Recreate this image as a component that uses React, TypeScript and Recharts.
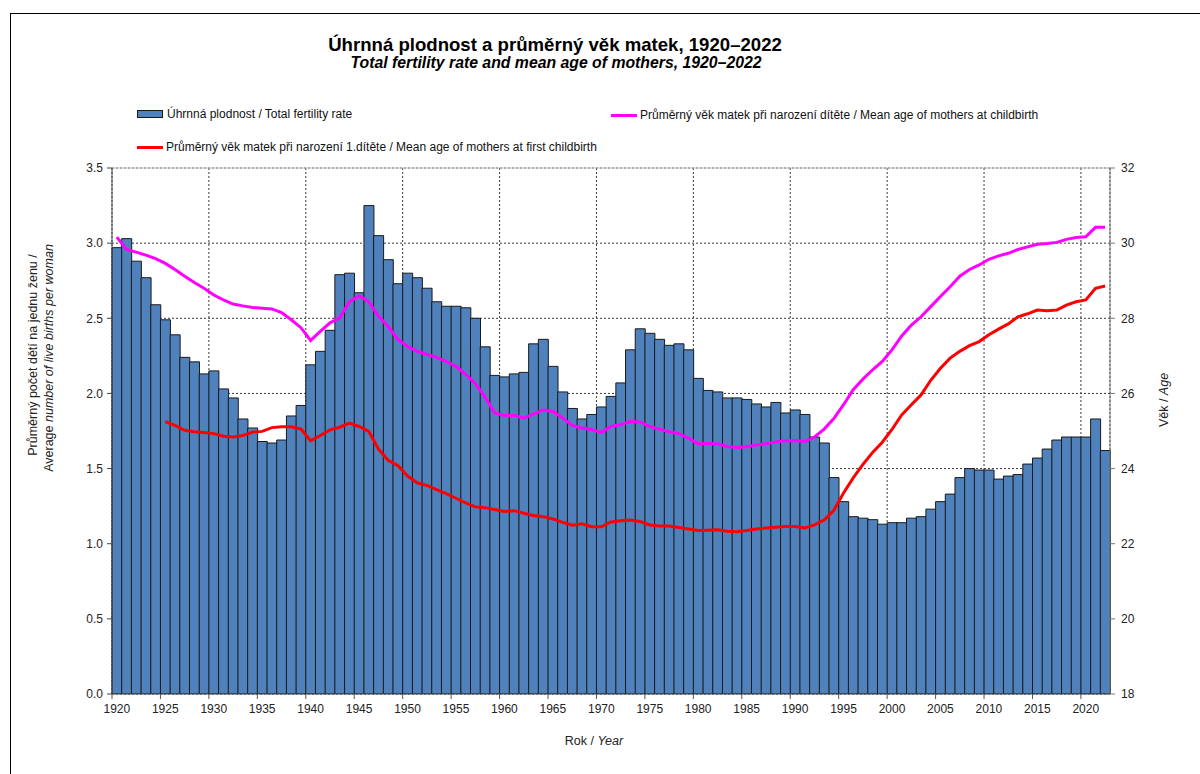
import React from 'react';
import { ComposedChart, Bar, Line, XAxis, YAxis, CartesianGrid, ReferenceLine, Legend } from 'recharts';

const years = [
  1920, 1921, 1922, 1923, 1924, 1925, 1926, 1927, 1928, 1929,
  1930, 1931, 1932, 1933, 1934, 1935, 1936, 1937, 1938, 1939,
  1940, 1941, 1942, 1943, 1944, 1945, 1946, 1947, 1948, 1949,
  1950, 1951, 1952, 1953, 1954, 1955, 1956, 1957, 1958, 1959,
  1960, 1961, 1962, 1963, 1964, 1965, 1966, 1967, 1968, 1969,
  1970, 1971, 1972, 1973, 1974, 1975, 1976, 1977, 1978, 1979,
  1980, 1981, 1982, 1983, 1984, 1985, 1986, 1987, 1988, 1989,
  1990, 1991, 1992, 1993, 1994, 1995, 1996, 1997, 1998, 1999,
  2000, 2001, 2002, 2003, 2004, 2005, 2006, 2007, 2008, 2009,
  2010, 2011, 2012, 2013, 2014, 2015, 2016, 2017, 2018, 2019,
  2020, 2021, 2022,
];

const totalFertility = [
  2.97, 3.03, 2.88, 2.77, 2.59, 2.49, 2.39, 2.24, 2.21, 2.13,
  2.15, 2.03, 1.97, 1.83, 1.77, 1.68, 1.67, 1.69, 1.85, 1.92,
  2.19, 2.28, 2.42, 2.79, 2.80, 2.67, 3.25, 3.05, 2.89, 2.73,
  2.80, 2.77, 2.70, 2.61, 2.58, 2.58, 2.57, 2.50, 2.31, 2.12,
  2.11, 2.13, 2.14, 2.33, 2.36, 2.18, 2.01, 1.90, 1.83, 1.86,
  1.91, 1.98, 2.07, 2.29, 2.43, 2.40, 2.36, 2.32, 2.33, 2.29,
  2.10, 2.02, 2.01, 1.97, 1.97, 1.96, 1.93, 1.91, 1.94, 1.87,
  1.89, 1.86, 1.71, 1.67, 1.44, 1.28, 1.18, 1.17, 1.16, 1.13,
  1.14, 1.14, 1.17, 1.18, 1.23, 1.28, 1.33, 1.44, 1.50, 1.49,
  1.49, 1.43, 1.45, 1.46, 1.53, 1.57, 1.63, 1.69, 1.71, 1.71,
  1.71, 1.83, 1.62,
];

const meanAgeAll = [
  30.16, 29.83, 29.76, 29.68, 29.59, 29.46, 29.30, 29.12, 28.95, 28.80,
  28.62, 28.49, 28.38, 28.33, 28.29, 28.27, 28.25, 28.15, 27.96, 27.75,
  27.41, 27.65, 27.88, 28.01, 28.44, 28.60, 28.44, 28.06, 27.78, 27.44,
  27.25, 27.12, 27.04, 26.96, 26.85, 26.72, 26.51, 26.26, 25.90, 25.48,
  25.41, 25.42, 25.35, 25.45, 25.56, 25.52, 25.35, 25.15, 25.08, 25.04,
  24.96, 25.12, 25.17, 25.25, 25.24, 25.12, 25.05, 24.98, 24.93, 24.81,
  24.66, 24.67, 24.66, 24.59, 24.56, 24.58, 24.63, 24.66, 24.71, 24.74,
  24.75, 24.72, 24.84, 25.05, 25.33, 25.70, 26.10, 26.38, 26.63, 26.85,
  27.16, 27.53, 27.82, 28.04, 28.31, 28.58, 28.84, 29.12, 29.30, 29.42,
  29.57, 29.66, 29.73, 29.83, 29.90, 29.97, 29.99, 30.02, 30.10, 30.15,
  30.17, 30.42, 30.42,
];

const meanAgeFirst: (number | null)[] = [
  null, null, null, null, null, 25.25, 25.15, 25.02, 24.98, 24.96,
  24.93, 24.86, 24.84, 24.88, 24.97, 24.99, 25.09, 25.11, 25.11, 25.05,
  24.74, 24.88, 25.03, 25.10, 25.21, 25.12, 24.99, 24.52, 24.22, 24.08,
  23.80, 23.62, 23.55, 23.44, 23.33, 23.21, 23.09, 22.98, 22.96, 22.91,
  22.86, 22.88, 22.81, 22.75, 22.72, 22.66, 22.57, 22.49, 22.53, 22.45,
  22.45, 22.58, 22.61, 22.63, 22.59, 22.50, 22.47, 22.47, 22.43, 22.39,
  22.35, 22.36, 22.37, 22.33, 22.32, 22.35, 22.39, 22.42, 22.44, 22.46,
  22.46, 22.42, 22.50, 22.63, 22.89, 23.35, 23.75, 24.11, 24.43, 24.70,
  25.04, 25.43, 25.70, 25.96, 26.35, 26.67, 26.94, 27.12, 27.27, 27.38,
  27.56, 27.71, 27.85, 28.04, 28.12, 28.22, 28.20, 28.22, 28.35, 28.44,
  28.49, 28.80, 28.86,
];

const leftTicks = [0, 0.5, 1, 1.5, 2, 2.5, 3, 3.5];
const rightTicks = [18, 20, 22, 24, 26, 28, 30, 32];
const decadeYears = [1930, 1940, 1950, 1960, 1970, 1980, 1990, 2000, 2010, 2020];

const data = years.map((year, i) => ({
  year,
  tfr: totalFertility[i],
  age: meanAgeAll[i],
  ageFirst: meanAgeFirst[i],
}));

const FONT = '"Liberation Sans", Arial, Helvetica, sans-serif';
const BAR_FILL = '#4f81bd';
const BAR_STROKE = '#1a1a1a';
const MAGENTA = '#ff00ff';
const RED = '#ff0000';

const XTick = (props: any) => {
  const { x, y, payload } = props;
  const off = payload && typeof payload.offset === 'number' ? payload.offset : 0;
  return (
    <g>
      <line x1={x - off} x2={x - off} y1={y} y2={y + 5} stroke="#555" strokeWidth={1} />
      <text x={x} y={y + 19} textAnchor="middle" fontSize={12} fill="#222" fontFamily={FONT}>
        {payload.value}
      </text>
    </g>
  );
};

const LegendContent = () => (
  <div style={{ position: 'relative', width: 1200, height: 0, fontFamily: FONT, fontSize: 12, color: '#111' }}>
    <div style={{ position: 'absolute', left: 137, top: 106, display: 'flex', alignItems: 'center', whiteSpace: 'nowrap', lineHeight: '16px' }}>
      <span style={{ display: 'inline-block', width: 24, height: 6, background: BAR_FILL, border: `1px solid ${BAR_STROKE}`, marginRight: 4 }} />
      <span>Úhrnná plodnost / Total fertility rate</span>
    </div>
    <div style={{ position: 'absolute', left: 611, top: 107, display: 'flex', alignItems: 'center', whiteSpace: 'nowrap', lineHeight: '16px' }}>
      <span style={{ display: 'inline-block', width: 26, height: 3, background: MAGENTA, marginRight: 3 }} />
      <span>Průměrný věk matek při narození dítěte / Mean age of mothers at childbirth</span>
    </div>
    <div style={{ position: 'absolute', left: 137, top: 139, display: 'flex', alignItems: 'center', whiteSpace: 'nowrap', lineHeight: '16px' }}>
      <span style={{ display: 'inline-block', width: 26, height: 3, background: RED, marginRight: 3 }} />
      <span>Průměrný věk matek při narození 1.dítěte / Mean age of mothers at first childbirth</span>
    </div>
  </div>
);

export default function App() {
  return (
    <div style={{ position: 'fixed', left: 0, top: 0, width: 1200, height: 774, overflow: 'hidden', background: '#fff', fontFamily: FONT }}>
      <div style={{ position: 'absolute', left: 10, top: 13, width: 1300, height: 900, borderTop: '1px solid #000', borderLeft: '1px solid #000' }} />
      <ComposedChart
        width={1200}
        height={774}
        data={data}
        margin={{ top: 168, right: 40, bottom: 50, left: 52 }}
        barCategoryGap={0}
        barGap={0}
        style={{ position: 'absolute', left: 0, top: 0 }}
      >
        <XAxis
          xAxisId="num"
          type="number"
          dataKey="year"
          domain={[1919.5, 2022.5]}
          ticks={decadeYears.map((d) => d - 0.5)}
          allowDataOverflow
          hide
        />
        <CartesianGrid xAxisId="num" yAxisId="left" stroke="#3a3a3a" strokeDasharray="2 2" />
        <XAxis
          xAxisId="cat"
          dataKey="year"
          type="category"
          interval={4}
          tickLine={false}
          tickSize={0}
          tickMargin={0}
          tick={<XTick />}
          axisLine={{ stroke: '#444' }}
          height={30}
        />
        <YAxis
          yAxisId="left"
          domain={[0, 3.5]}
          ticks={leftTicks}
          tickFormatter={(v: number) => v.toFixed(1)}
          width={60}
          tickSize={5}
          tickMargin={4}
          axisLine={{ stroke: '#444' }}
          tickLine={{ stroke: '#444' }}
          tick={{ fontSize: 12, fill: '#222', fontFamily: FONT }}
          allowDataOverflow
        />
        <YAxis
          yAxisId="right"
          orientation="right"
          domain={[18, 32]}
          ticks={rightTicks}
          width={50}
          tickSize={5}
          tickMargin={6}
          axisLine={{ stroke: '#777' }}
          tickLine={{ stroke: '#777' }}
          tick={{ fontSize: 12, fill: '#222', fontFamily: FONT }}
          allowDataOverflow
        />
        <ReferenceLine xAxisId="cat" yAxisId="left" y={3.5} stroke="#c4c4c4" strokeWidth={1} />
        <Bar
          xAxisId="cat"
          yAxisId="left"
          dataKey="tfr"
          fill={BAR_FILL}
          stroke={BAR_STROKE}
          strokeWidth={1}
          isAnimationActive={false}
        />
        <Line
          xAxisId="cat"
          yAxisId="right"
          type="linear"
          dataKey="age"
          stroke={MAGENTA}
          strokeWidth={3}
          dot={false}
          activeDot={false}
          isAnimationActive={false}
        />
        <Line
          xAxisId="cat"
          yAxisId="right"
          type="linear"
          dataKey="ageFirst"
          stroke={RED}
          strokeWidth={3}
          dot={false}
          activeDot={false}
          isAnimationActive={false}
        />
        <Legend content={<LegendContent />} wrapperStyle={{ position: 'absolute', left: 0, top: 0, width: 1200, height: 0 }} />
      </ComposedChart>

      <div style={{ position: 'absolute', left: 555, top: 34, transform: 'translateX(-50%)', whiteSpace: 'nowrap', fontWeight: 'bold', fontSize: 18.6, color: '#000', lineHeight: '21px' }}>
        Úhrnná plodnost a průměrný věk matek, 1920–2022
      </div>
      <div style={{ position: 'absolute', left: 556, top: 54, transform: 'translateX(-50%)', whiteSpace: 'nowrap', fontWeight: 'bold', fontStyle: 'italic', fontSize: 15.8, color: '#000', lineHeight: '18px' }}>
        Total fertility rate and mean age of mothers, 1920–2022
      </div>

      <div style={{ position: 'absolute', left: 33, top: 355, transform: 'translate(-50%, -50%) rotate(-90deg)', whiteSpace: 'nowrap', fontSize: 12.5, color: '#222', lineHeight: '15px' }}>
        Průměrný počet dětí na jednu ženu /
      </div>
      <div style={{ position: 'absolute', left: 49, top: 358, transform: 'translate(-50%, -50%) rotate(-90deg)', whiteSpace: 'nowrap', fontSize: 12.5, color: '#222', lineHeight: '15px' }}>
        Average <i>number of live births per woman</i>
      </div>
      <div style={{ position: 'absolute', left: 1164, top: 400, transform: 'translate(-50%, -50%) rotate(-90deg)', whiteSpace: 'nowrap', fontSize: 12.5, color: '#222', lineHeight: '15px' }}>
        Věk / <i>Age</i>
      </div>
      <div style={{ position: 'absolute', left: 594, top: 741, transform: 'translate(-50%, -50%)', whiteSpace: 'nowrap', fontSize: 12.5, color: '#222', lineHeight: '15px' }}>
        Rok / <i>Year</i>
      </div>
    </div>
  );
}
